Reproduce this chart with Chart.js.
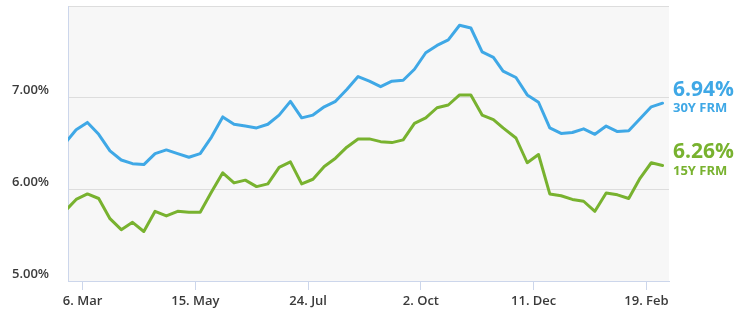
<!DOCTYPE html>
<html>
<head>
<meta charset="utf-8">
<script src="https://cdn.jsdelivr.net/npm/chart.js@4.4.1/dist/chart.umd.min.js"></script>
<style>
  html, body { margin: 0; padding: 0; background: #fff; }
  #rates { display: block; }
</style>
</head>
<body>
<canvas id="rates" width="750" height="326"></canvas>
<script>
// weekly survey dates
const weeks = [
  '2023-02-23', '2023-03-02', '2023-03-09', '2023-03-16', '2023-03-23', '2023-03-30',
  '2023-04-06', '2023-04-13', '2023-04-20', '2023-04-27', '2023-05-04', '2023-05-11',
  '2023-05-18', '2023-05-25', '2023-06-01', '2023-06-08', '2023-06-15', '2023-06-22',
  '2023-06-29', '2023-07-06', '2023-07-13', '2023-07-20', '2023-07-27', '2023-08-03',
  '2023-08-10', '2023-08-17', '2023-08-24', '2023-08-31', '2023-09-07', '2023-09-14',
  '2023-09-21', '2023-09-28', '2023-10-05', '2023-10-12', '2023-10-19', '2023-10-26',
  '2023-11-02', '2023-11-09', '2023-11-16', '2023-11-22', '2023-11-30', '2023-12-07',
  '2023-12-14', '2023-12-21', '2023-12-28', '2024-01-04', '2024-01-11', '2024-01-18',
  '2024-01-25', '2024-02-01', '2024-02-08', '2024-02-15', '2024-02-22', '2024-02-29'
]

const rate30 = [
  6.50, 6.65, 6.73, 6.60, 6.42, 6.32, 6.28, 6.27, 6.39, 6.43, 6.39, 6.35,
  6.39, 6.57, 6.79, 6.71, 6.69, 6.67, 6.71, 6.81, 6.96, 6.78, 6.81, 6.90,
  6.96, 7.09, 7.23, 7.18, 7.12, 7.18, 7.19, 7.31, 7.49, 7.57, 7.63, 7.79,
  7.76, 7.50, 7.44, 7.29, 7.22, 7.03, 6.95, 6.67, 6.61, 6.62, 6.66, 6.60,
  6.69, 6.63, 6.64, 6.77, 6.90, 6.94
]

const rate15 = [
  5.76, 5.89, 5.95, 5.90, 5.68, 5.56, 5.64, 5.54, 5.76, 5.71, 5.76, 5.75,
  5.75, 5.97, 6.18, 6.07, 6.10, 6.03, 6.06, 6.24, 6.30, 6.06, 6.11, 6.25,
  6.34, 6.46, 6.55, 6.55, 6.52, 6.51, 6.54, 6.72, 6.78, 6.89, 6.92, 7.03,
  7.03, 6.81, 6.76, 6.67, 6.56, 6.29, 6.38, 5.95, 5.93, 5.89, 5.87, 5.76,
  5.96, 5.94, 5.90, 6.12, 6.29, 6.26
]

const seriesNames = ['30Y FRM', '15Y FRM']
const tickDates = ['2023-03-06', '2023-05-15', '2023-07-24', '2023-10-02', '2023-12-11', '2024-02-19']
const tickLabels = ['6. Mar', '15. May', '24. Jul', '2. Oct', '11. Dec', '19. Feb']
const yTicks = [5, 6, 7, 8]

const BLUE = '#3fa8e6'
const GREEN = '#78b22f'
const FONT = '"Open Sans"'

// dates -> day numbers so a plain linear axis can place them
const toDay = s => Date.UTC(+s.slice(0, 4), +s.slice(5, 7) - 1, +s.slice(8, 10)) / 86400000
const asPoints = vals => vals.map((v, i) => ({ x: toDay(weeks[i]), y: v }))

const plotBackground = {
  id: 'plotBackground',
  beforeDraw(chart) {
    const { ctx, chartArea: a } = chart
    ctx.save()
    ctx.fillStyle = '#f7f7f7'
    ctx.fillRect(a.left, a.top, a.right - a.left, a.bottom - a.top)
    ctx.restore()
  }
}

// latest value + series name to the right of each line
const endLabels = {
  id: 'endLabels',
  afterDraw(chart) {
    const { ctx, chartArea: a } = chart
    const yScale = chart.scales.y
    ctx.save()
    ctx.textAlign = 'left'
    ctx.textBaseline = 'alphabetic'
    chart.data.datasets.forEach(ds => {
      const last = ds.data[ds.data.length - 1].y
      const y = yScale.getPixelForValue(last)
      ctx.fillStyle = ds.borderColor
      ctx.font = '700 21px ' + FONT
      ctx.fillText(last.toFixed(2) + '%', a.right + 4, y - 7.5)
      ctx.font = '700 13px ' + FONT
      ctx.fillText(ds.label, a.right + 4, y + 9)
    })
    ctx.restore()
  }
}

new Chart(document.getElementById('rates'), {
  type: 'line',
  data: {
    datasets: [
      { label: seriesNames[0], data: asPoints(rate30), borderColor: BLUE },
      { label: seriesNames[1], data: asPoints(rate15), borderColor: GREEN }
    ]
  },
  options: {
    responsive: false,
    animation: false,
    // y axis reserves its label padding twice, pull it back on the left
    layout: { padding: { top: 6, right: 81, left: -7, bottom: 0 } },
    elements: {
      line: { borderWidth: 3, tension: 0, borderJoinStyle: 'round', borderCapStyle: 'round' },
      point: { radius: 0 }
    },
    plugins: { legend: { display: false }, tooltip: { enabled: false } },
    scales: {
      x: {
        type: 'linear',
        min: toDay('2023-02-25'),
        max: toDay('2024-03-04'),
        afterBuildTicks: scale => { scale.ticks = tickDates.map(d => ({ value: toDay(d) })) },
        afterFit: scale => {
          scale.height = 45
          scale.paddingLeft = 0
          scale.paddingRight = 0
        },
        grid: { drawOnChartArea: false, drawTicks: true, tickLength: 9, tickColor: '#ccd6eb', lineWidth: 1 },
        border: { color: '#ccd6eb', width: 1 },
        ticks: {
          autoSkip: false,
          maxRotation: 0,
          padding: 3,
          color: '#3a3a3a',
          font: { family: FONT, size: 13, weight: '600' },
          callback: value => tickLabels[tickDates.findIndex(d => toDay(d) === value)]
        }
      },
      y: {
        min: 5,
        max: 8,
        afterBuildTicks: scale => { scale.ticks = yTicks.map(v => ({ value: v })) },
        afterFit: scale => {
          scale.paddingTop = 0
          scale.paddingBottom = 0
        },
        grid: { color: '#dddddd', lineWidth: 1, drawTicks: false },
        border: { color: '#ccd6eb', width: 1 },
        ticks: {
          padding: 19,
          labelOffset: -7,
          color: '#3a3a3a',
          font: { family: FONT, size: 13, weight: '600' },
          callback: v => (v === 8 ? '' : v.toFixed(2) + '%')
        }
      }
    }
  },
  plugins: [plotBackground, endLabels]
})
</script>
</body>
</html>
